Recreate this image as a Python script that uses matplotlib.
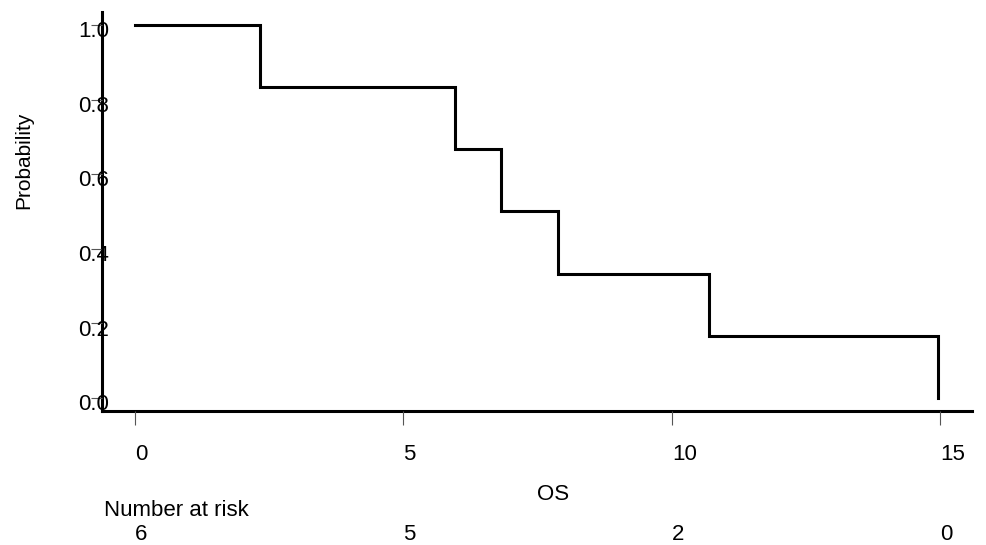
import numpy as np
import matplotlib
matplotlib.use('Agg')
import matplotlib.pyplot as plt
from matplotlib.transforms import ScaledTranslation

# Kaplan-Meier steps
times = [0, 2.33, 5.96, 6.82, 7.88, 10.7, 14.95]
surv = [1.0, 0.833, 0.667, 0.5, 0.333, 0.167, 0.0]
xticks = [0, 5, 10, 15]
yticks = [0.0, 0.2, 0.4, 0.6, 0.8, 1.0]
risk_n = [6, 5, 2, 0]

plt.rcParams['font.family'] = ['Liberation Sans', 'DejaVu Sans']
fs = 16

W, H = 986, 545
fig = plt.figure(figsize=(W/100, H/100), dpi=100)
ax = fig.add_axes([102/W, 1-411/H, (972-102)/W, (411-12)/H])

ax.step(times, surv, where='post', color='k', lw=2.2, solid_joinstyle='miter')

ax.set_xlim(-0.615, 15.59)
ax.set_ylim(-0.035, 1.035)
for s in ['top', 'right']:
    ax.spines[s].set_visible(False)
for s in ['left', 'bottom']:
    ax.spines[s].set_linewidth(2.2)
    ax.spines[s].set_zorder(1)

ax.set_xticks(xticks)
ax.set_xticklabels([str(t) for t in xticks], ha='left', fontsize=fs)
ax.tick_params(axis='x', direction='out', length=10, width=0.8, color='#555555', pad=14)

ax.set_yticks(yticks)
ax.set_yticklabels(['%.1f' % v for v in yticks], fontsize=fs)
ax.tick_params(axis='y', direction='out', length=8, width=0.8, color='#555555', pad=-13)
shift = ScaledTranslation(0, -3/72, fig.dpi_scale_trans)
for lab in ax.get_yticklabels():
    lab.set_transform(lab.get_transform() + shift)
    lab.set_zorder(3)

fig.text(24/W, 1-160/H, 'Probability', rotation=90, ha='center', va='center', fontsize=fs-1)

trans = ax.get_xaxis_transform()
ax.text(7.78, -0.21, 'OS', transform=trans, ha='center', va='center', fontsize=fs)
ax.text(-0.58, -0.25, 'Number at risk', transform=trans, ha='left', va='center', fontsize=fs)
for t, n in zip(xticks, risk_n):
    ax.text(t, -0.31, str(n), transform=trans, ha='left', va='center', fontsize=fs)

plt.savefig('out.png', dpi=100)
